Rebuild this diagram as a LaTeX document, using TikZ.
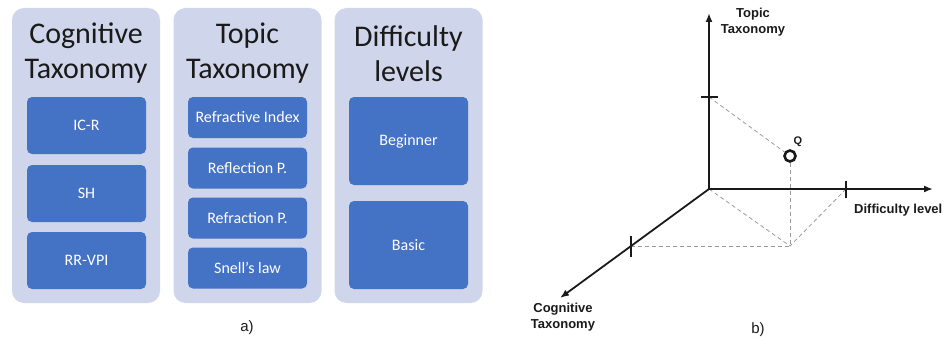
\documentclass[tikz,border=0pt]{standalone}
\usepackage{fontspec}
\setmainfont{Carlito}
\newfontfamily\labelfont{Liberation Sans}
\usetikzlibrary{arrows.meta}
\definecolor{ink}{HTML}{1A1A1A}
\definecolor{panelbg}{HTML}{CFD5EA}
\definecolor{cellbg}{HTML}{4472C4}
\definecolor{dashgray}{HTML}{9A9A9A}
\tikzset{>=Latex,
  panel/.style={fill=panelbg,rounded corners=12pt,minimum width=148pt,minimum height=295pt,inner sep=0pt},
  heading/.style={font=\fontsize{30}{35}\selectfont,text=ink,align=center,inner sep=0pt},
  cell/.style={fill=cellbg,rounded corners=5pt,minimum width=119pt,inner sep=0pt,text=white,font=\fontsize{16}{19}\selectfont},
  axis/.style={draw=ink,line width=1.8pt,-{Latex[length=9pt,width=7pt]}},
  tickline/.style={draw=ink,line width=1.4pt},
  guide/.style={draw=dashgray,line width=0.8pt,dash pattern=on 4pt off 3pt},
  point/.style={circle,draw=ink,line width=2.6pt,minimum size=11pt,inner sep=0pt},
  axlab/.style={font=\labelfont\bfseries\fontsize{13}{16}\selectfont,text=ink,align=center,inner sep=0pt},
  sublabel/.style={font=\labelfont\fontsize{15}{17}\selectfont,text=ink,inner sep=0pt}}

\begin{document}
\begin{tikzpicture}[x=1pt,y=-1pt]
  \useasboundingbox (0,0) rectangle (945,337);
  % a) the three taxonomies
  \node[panel] (cogPanel) at (86,155.5) {};
  \node[panel] (topPanel) at (247.5,155.5) {};
  \node[panel] (difPanel) at (408.5,155.5) {};
  \node[heading] (cogHead) at (86,53.5) {Cognitive\\Taxonomy};
  \node[heading] (topHead) at (247.5,53.5) {Topic\\Taxonomy};
  \node[heading] (difHead) at (408.5,53.5) {Difficulty\\levels};
  \node[cell,minimum height=57pt] (icr) at (86.5,125.5) {IC-R};
  \node[cell,minimum height=57pt] (sh) at (86.5,193.5) {SH};
  \node[cell,minimum height=57pt] (rrvpi) at (86.5,260.5) {RR-VPI};
  \node[cell,minimum height=41pt] (refIdx) at (247.5,117.5) {Refractive Index};
  \node[cell,minimum height=41pt] (reflP) at (247.5,168) {Reflection P.};
  \node[cell,minimum height=41pt] (refrP) at (247.5,218) {Refraction P.};
  \node[cell,minimum height=41pt] (snell) at (247.5,268) {Snell's law};
  \node[cell,minimum height=88pt] (beginner) at (408.5,141) {Beginner};
  \node[cell,minimum height=88pt] (basic) at (408.5,245) {Basic};
  \node[sublabel] (capA) at (247,328) {a)};
  % b) the three axes and the point Q
  \coordinate (O) at (709,189);
  \coordinate (topTip) at (709,13);
  \coordinate (difTip) at (933,189);
  \coordinate (cogTip) at (560,298);
  \coordinate (topMark) at (709,97);
  \coordinate (difMark) at (846,189);
  \coordinate (cogMark) at (631,246);
  \coordinate (foot) at (790,246);
  \node[point] (Q) at (790,156) {};
  \node[font=\labelfont\bfseries\fontsize{11}{12}\selectfont,text=ink,inner sep=0pt] (qLab) at (798,142) {Q};
  \draw[guide] (topMark) -- (Q);
  \draw[guide] (Q) -- (foot);
  \draw[guide] (O) -- (foot) -- (difMark);
  \draw[guide] (cogMark) -- (foot);
  \draw[axis] (O) -- (topTip);
  \draw[axis] (O) -- (difTip);
  \draw[axis] (O) -- (cogTip);
  \draw[tickline] (topMark) ++(-8.5,0) -- ++(17,0);
  \draw[tickline] (difMark) ++(0,-8.5) -- ++(0,17);
  \draw[tickline] (cogMark) ++(0,-10.5) -- ++(0,21);
  \node[axlab] (topLab) at (753,22) {Topic\\Taxonomy};
  \node[axlab,anchor=west] (difLab) at (854,210) {Difficulty level};
  \node[axlab] (cogLab) at (563,317.5) {Cognitive\\Taxonomy};
  \node[sublabel] (capB) at (758,330) {b)};
\end{tikzpicture}
\end{document}
